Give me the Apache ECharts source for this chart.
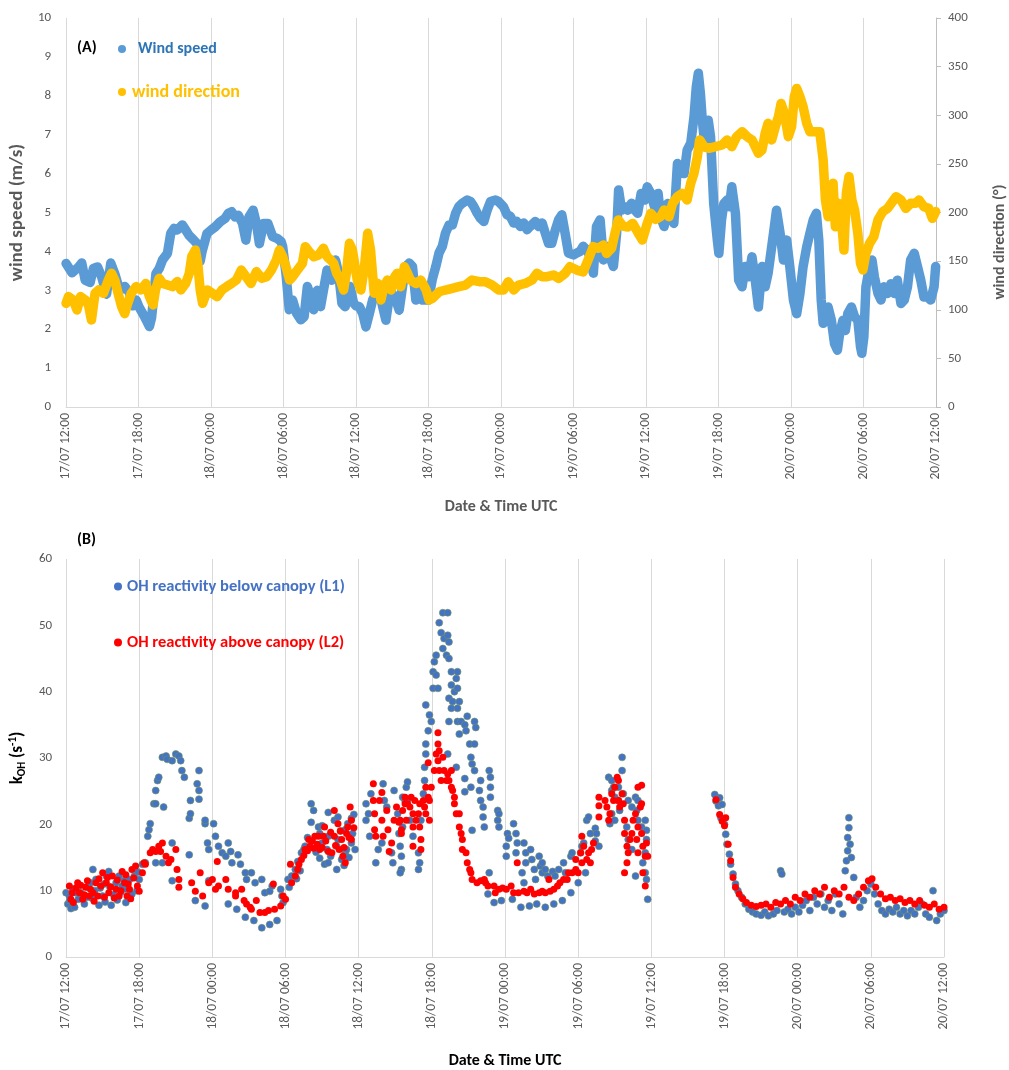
<!DOCTYPE html>
<html>
<head>
<meta charset="utf-8">
<script src="https://cdn.jsdelivr.net/npm/echarts@6/dist/echarts.min.js"></script>
<style>
  html, body { margin: 0; padding: 0; background: #ffffff; }
  #chart { width: 1009px; height: 1070px; }
</style>
</head>
<body>
<div id="chart"></div>
<script>
// Time axis: hours after 17/07 12:00 UTC, one tick every 6 h
const tickLabels = ['17/07 12:00', '17/07 18:00', '18/07 00:00', '18/07 06:00', '18/07 12:00',
  '18/07 18:00', '19/07 00:00', '19/07 06:00', '19/07 12:00', '19/07 18:00',
  '20/07 00:00', '20/07 06:00', '20/07 12:00'];

// (A) wind speed, m/s  [hour, value]
const windSpeed = [
  [0,3.69],[0.5,3.45],[1.04,3.6],[1.3,3.7],[1.58,3.26],[1.99,3.2],[2.26,3.56],[2.6,3.6],[2.94,3.35],
  [3.35,2.9],[3.7,3.7],[4.03,3.43],[4.44,3.0],[4.85,3.1],[5.26,2.93],[5.53,2.6],[5.8,2.75],[6.02,2.58],
  [6.35,2.4],[6.62,2.24],[6.9,2.07],[7.08,2.3],[7.44,3.43],[7.71,3.56],[7.98,3.78],[8.39,3.95],[8.66,4.46],
  [8.94,4.59],[9.2,4.55],[9.62,4.68],[9.9,4.55],[10.16,4.42],[10.57,4.29],[10.98,4.15],[11.1,3.75],
  [11.25,3.99],[11.66,4.46],[12,4.55],[12.34,4.63],[12.75,4.76],[13.16,4.85],[13.43,4.98],[13.7,5.02],
  [13.98,4.89],[14.25,4.93],[14.6,4.72],[14.88,4.29],[15.15,4.89],[15.48,5.06],[15.75,4.72],[16.0,4.2],
  [16.35,4.72],[16.7,4.72],[17.1,4.38],[17.5,4.33],[17.8,4.25],[17.93,4.12],[18.2,3.43],[18.47,2.5],
  [18.75,2.75],[19.07,2.41],[19.43,2.24],[19.7,2.32],[19.97,3.1],[20.25,2.84],[20.5,2.5],[20.8,3.0],
  [21.06,2.58],[21.6,3.52],[22.0,3.26],[22.3,3.78],[22.56,3.43],[22.83,2.67],[23.1,2.58],[23.5,3.1],
  [23.8,2.67],[24.0,2.6],[24.27,2.58],[24.55,2.4],[24.82,2.06],[25.1,2.4],[25.37,2.75],[25.65,2.92],
  [25.92,3.0],[26.2,2.58],[26.47,2.23],[26.75,2.83],[27.0,2.92],[27.3,2.75],[27.57,2.49],[27.85,3.1],
  [28.1,3.61],[28.4,3.7],[28.67,3.61],[28.95,2.75],[29.2,3.01],[29.5,2.75],[30.0,2.75],[30.3,3.27],
  [30.6,3.61],[30.87,3.96],[31.14,4.13],[31.4,4.47],[31.7,4.68],[31.97,4.68],[32.24,4.98],[32.5,5.15],
  [32.8,5.24],[33.2,5.32],[33.48,5.28],[33.75,5.15],[34.03,4.98],[34.3,4.85],[34.58,4.77],[34.85,5.06],
  [35.13,5.28],[35.54,5.32],[35.8,5.28],[36.2,5.15],[36.5,4.94],[36.77,4.9],[37.05,4.73],[37.3,4.77],
  [37.6,4.64],[37.87,4.73],[38.15,4.56],[38.4,4.64],[38.84,4.77],[39.1,4.64],[39.4,4.73],[39.66,4.47],
  [39.93,4.21],[40.2,4.21],[40.5,4.56],[40.76,4.81],[41.03,4.94],[41.3,4.47],[41.58,3.96],[42.0,3.91],
  [42.27,3.96],[42.54,4.0],[42.8,4.13],[43.1,4.04],[43.37,3.87],[43.64,3.44],[43.9,4.64],[44.2,4.81],
  [44.47,3.78],[44.74,4.13],[45.0,3.87],[45.3,3.61],[45.57,4.47],[45.73,5.58],[45.98,5.06],[46.25,5.15],
  [46.5,5.06],[46.8,5.24],[47.08,5.06],[47.3,4.98],[47.6,5.49],[47.9,5.32],[48.1,5.66],[48.4,5.49],
  [48.7,5.15],[49.0,5.49],[49.2,4.89],[49.5,4.64],[49.8,5.23],[50.05,4.89],[50.3,4.72],[50.6,6.26],
  [50.9,6.18],[51.15,6.0],[51.4,6.6],[51.7,6.78],[51.97,7.46],[52.16,8.23],[52.33,8.58],[52.5,8.06],
  [52.66,7.37],[52.88,6.69],[53.15,7.37],[53.34,6.95],[53.6,5.23],[53.9,4.29],[54.03,3.95],[54.25,4.81],
  [54.44,5.23],[54.7,5.32],[54.9,5.15],[55.1,5.66],[55.4,4.98],[55.67,3.26],[55.95,3.09],[56.2,3.61],
  [56.5,3.35],[56.77,3.86],[57.04,3.26],[57.3,2.57],[57.6,3.61],[57.86,3.09],[58.1,3.43],[58.55,4.46],
  [58.8,5.06],[59.1,4.46],[59.37,3.78],[59.64,4.29],[59.9,3.61],[60.2,2.75],[60.47,2.4],[60.74,2.92],
  [61.0,3.61],[61.3,4.12],[61.56,4.46],[61.84,4.81],[62.1,4.98],[62.3,4.29],[62.5,2.75],[62.66,2.15],
  [62.85,2.4],[63.07,2.57],[63.34,2.23],[63.6,1.63],[63.84,1.46],[64.03,1.89],[64.3,2.23],[64.5,1.97],
  [64.7,2.4],[65.0,2.57],[65.26,2.32],[65.53,2.23],[65.75,1.55],[65.86,1.38],[66.03,1.8],[66.2,3.09],
  [66.5,3.61],[66.7,3.78],[66.9,3.35],[67.2,2.92],[67.45,2.75],[67.7,3.09],[68.0,2.92],[68.27,3.17],
  [68.55,2.92],[68.8,3.26],[69.1,2.66],[69.37,2.75],[69.64,3.09],[69.9,3.78],[70.2,3.95],[70.47,3.61],
  [70.74,3.26],[71.0,2.83],[71.3,2.83],[71.56,2.75],[71.84,3.09],[71.97,3.61]
];

// (A) wind direction, degrees  [hour, value]
const windDirection = [
  [0,106.6],[0.2,113.5],[0.6,110],[0.9,99.8],[1.2,113.5],[1.6,110],[1.85,105],[2.1,89.5],[2.4,117],
  [2.7,120.4],[3.1,117],[3.5,130.6],[3.76,137.5],[4.03,130.6],[4.3,117],[4.6,103],[4.85,96],[5.1,106.6],
  [5.4,117],[5.8,123.8],[6.2,120.4],[6.6,127],[6.9,113.5],[7.2,105],[7.4,120.4],[7.7,132.3],[8.0,127],
  [8.4,125.5],[8.8,123.8],[9.2,129],[9.5,120.4],[9.9,127],[10.2,137.5],[10.4,154.6],[10.7,161.4],
  [10.9,147.7],[11.1,120.4],[11.3,106.6],[11.7,120.4],[12.1,117],[12.5,113.5],[12.9,120.4],[13.3,123.8],
  [13.7,127],[14.1,130.6],[14.5,140.9],[14.9,134],[15.3,127],[15.75,139.2],[16.2,132.3],[16.6,134],
  [17.0,140.9],[17.4,151.2],[17.66,161.4],[17.93,154.6],[18.2,144.3],[18.5,130.6],[18.75,134],
  [19.15,140.9],[19.56,147.7],[19.8,164.9],[20.1,159.8],[20.5,154.6],[20.9,156.3],[21.3,163.2],
  [21.6,154.6],[21.9,151.2],[22.15,147.7],[22.4,137.5],[22.7,130.6],[22.97,120.4],[23.2,137.5],
  [23.45,168.3],[23.7,161.4],[24.1,130.5],[24.4,120.3],[24.7,144.3],[24.96,178.6],[25.2,161.4],
  [25.5,117],[25.8,127],[26.06,110],[26.3,123.7],[26.6,130.5],[26.9,120.3],[27.2,134],[27.4,137.4],
  [27.7,123.7],[28.0,144.3],[28.26,137.4],[28.5,130.5],[28.95,127],[29.36,130.5],[29.8,120.3],
  [30.04,110],[30.3,111.5],[30.87,118.5],[31.4,120.3],[31.97,122],[32.5,123.7],[33.07,125.4],
  [33.6,130.5],[34.2,128.8],[34.7,128.8],[35.26,125.4],[35.8,120.3],[36.2,120.3],[36.6,128.8],
  [37.05,120.3],[37.45,125.4],[38.0,127],[38.56,130.5],[38.97,137.4],[39.4,134],[39.8,134],
  [40.35,135.7],[40.76,132.2],[41.3,137.4],[41.7,144.3],[42.27,140.8],[42.8,139],[43.2,151],
  [43.64,164.9],[44.05,163.2],[44.47,166.6],[44.74,157.9],[45.15,163.2],[45.43,178.6],[45.7,192.3],
  [46.1,186],[46.5,185],[46.9,188.8],[47.3,180],[47.7,171.7],[48.1,188.8],[48.4,199.1],[48.8,193],
  [49.2,195.7],[49.5,202.6],[49.9,195.7],[50.2,209.4],[50.6,216.3],[51.0,219.7],[51.4,212.9],
  [51.7,230],[51.97,240.3],[52.25,257.4],[52.44,274.6],[52.8,267.7],[53.2,266],[53.75,267.7],
  [54.3,269.4],[54.7,274.6],[55.1,267.7],[55.5,278],[55.95,283.1],[56.36,278],[56.77,274.6],
  [57.04,267.7],[57.3,260.9],[57.6,264.3],[57.86,281.4],[58.1,291.7],[58.4,274.6],[58.7,288.3],
  [58.96,298.5],[59.18,312.2],[59.45,302],[59.78,278],[60.05,288.3],[60.27,319],[60.47,327.6],
  [60.74,319],[61.0,308.8],[61.3,291.7],[61.56,283.1],[61.97,283.1],[62.38,283.1],[62.66,254],
  [62.85,212.9],[63.07,195.7],[63.3,223.1],[63.48,230],[63.67,185.4],[63.95,209.4],[64.16,195.7],
  [64.38,161.4],[64.58,219.7],[64.8,236.9],[65.04,212.9],[65.26,202.6],[65.53,178.6],[65.75,147.7],
  [65.95,140.9],[66.2,158],[66.5,168.3],[66.85,175.1],[67.2,192.3],[67.6,200.9],[68.0,204.3],
  [68.4,211.2],[68.7,216.3],[69.1,212.9],[69.5,204.3],[69.9,209.4],[70.3,209.4],[70.6,212.9],
  [71.0,206],[71.4,204.3],[71.7,194],[71.97,200.9]
];

// (B) OH reactivity below canopy (L1), s-1  [hour, value]
const ohBelow = [
  [0,9.7],[0.14,8.0],[0.27,9.2],[0.3,8.5],[0.4,7.3],[0.55,10.2],[0.7,7.5],[0.8,9.7],[1.0,8.7],[1.1,10.8],
  [1.2,9.7],[1.4,9.2],[1.5,8.0],[1.7,9.0],[1.8,10.5],[2.0,11.2],[2.1,8.9],[2.2,13.2],[2.35,10.0],
  [2.45,11.7],[2.7,7.8],[2.8,10.4],[3.0,9.2],[3.1,11.0],[3.2,8.3],[3.3,12.2],[3.5,12.9],[3.6,10.5],
  [3.7,7.8],[3.9,9.4],[4.1,11.2],[4.2,8.6],[4.35,12.2],[4.5,9.8],[4.6,10.7],[4.75,11.5],[4.9,8.2],
  [5.0,10.2],[5.2,11.7],[5.4,9.5],[5.6,12.2],[5.8,10.0],[5.9,12.8],[6.0,11.7],[6.26,14.0],[6.5,14.2],
  [6.7,18.2],[6.8,19.2],[6.9,20.1],[7.2,23.1],[7.35,25.1],[7.35,23.1],[7.35,14.2],[7.5,26.6],[7.6,27.1],
  [7.9,30.1],[7.9,14.2],[8.0,22.6],[8.2,30.3],[8.3,29.8],[8.7,29.6],[8.7,17.2],[8.7,11.5],[9.0,30.6],
  [9.25,30.3],[9.4,29.6],[9.5,28.1],[9.7,27.1],[10.1,15.4],[10.1,20.9],[10.2,23.6],[10.2,21.6],
  [10.75,26.1],[10.9,28.1],[10.9,25.1],[10.9,23.8],[10.6,8.5],[11.4,20.1],[11.4,20.6],[11.4,7.7],
  [11.6,17.2],[11.7,16.2],[11.7,11.5],[12.1,20.1],[12.25,18.2],[12.5,16.7],[12.8,15.7],[13.1,15.2],
  [13.3,17.2],[13.3,8.0],[13.5,15.9],[13.6,14.2],[14.0,7.2],[14.1,15.4],[14.3,14.0],[14.7,12.7],
  [14.7,6.0],[14.8,11.7],[15.2,12.7],[15.4,5.5],[15.5,11.2],[16.05,11.7],[16.05,4.4],[16.3,9.7],
  [16.7,9.9],[16.7,4.9],[16.9,10.7],[17.3,5.5],[17.6,10.2],[17.7,9.2],[17.8,8.2],[18.2,11.7],[18.3,10.5],
  [18.5,12.2],[18.8,13.2],[18.9,11.8],[19.0,14.4],[19.2,13.0],[19.3,15.7],[19.5,16.2],[19.6,16.7],
  [19.8,18.0],[20.1,23.1],[20.3,22.1],[20.1,20.3],[20.5,15.8],[20.7,19.6],[20.8,18.6],[20.8,14.9],
  [21.0,17.2],[21.0,19.8],[21.2,14.0],[21.4,16.2],[21.5,18.2],[21.5,21.8],[21.5,14.2],[21.7,15.2],
  [22.0,20.6],[22.2,16.7],[22.2,13.2],[22.3,21.1],[22.3,17.7],[22.5,19.0],[22.6,14.7],[22.8,13.8],
  [22.9,19.2],[22.9,15.7],[23.0,16.2],[23.1,20.1],[23.2,15.0],[23.4,20.9],[23.4,17.2],[23.5,18.6],
  [23.6,21.5],[23.7,16.2],
  [24.6,23.1],[24.8,21.6],[24.6,20.6],[24.9,18.2],[25.0,24.6],[25.4,14.2],[25.6,16.2],[25.9,17.2],
  [26.0,26.1],[26.1,23.6],[26.3,22.6],[26.7,15.7],[26.8,14.2],[26.9,25.1],[27.2,21.6],[27.3,18.6],
  [27.5,15.2],[27.5,13.2],[27.6,24.1],[27.4,16.7],[27.4,12.7],[27.6,19.6],[27.8,23.6],[27.9,25.6],
  [28.0,26.4],[28.0,23.6],[28.2,20.6],[28.45,18.2],[28.9,13.2],[28.9,15.7],[29.0,14.2],[29.1,20.6],
  [29.3,24.6],[29.4,26.6],[29.4,28.6],[29.5,30.6],[29.5,32.1],[29.5,38.0],[29.7,34.1],[29.8,36.5],
  [29.95,35.5],[30.1,43.0],[30.1,40.5],[30.2,44.5],[30.35,45.5],[30.35,42.5],[30.5,40.5],[30.6,50.4],
  [30.76,48.9],[30.9,51.9],[30.9,46.5],[31.0,48.0],[31.2,45.5],[31.3,51.9],[31.3,48.5],[31.3,30.6],
  [31.4,47.5],[31.4,45.0],[31.4,39.0],[31.4,35.5],[31.6,43.0],[31.6,41.0],[31.6,37.5],[31.7,38.5],
  [31.85,40.0],[32.0,42.0],[32.0,28.6],[32.1,43.0],[32.1,40.5],[32.1,37.5],[32.1,35.5],[32.25,38.5],
  [32.25,33.6],[32.4,35.5],[32.7,35.0],[32.7,26.9],[32.7,24.9],[32.8,34.1],[32.9,36.3],[33.1,32.1],
  [33.2,30.1],[33.2,25.6],[33.3,29.1],[33.3,19.1],[33.5,35.5],[33.5,32.1],[33.5,28.1],[33.6,34.6],
  [33.9,25.1],[34.0,26.6],[34.0,23.6],[34.2,22.6],[34.2,21.1],[34.3,19.6],[34.6,9.5],[34.7,28.1],
  [34.7,12.7],[34.8,27.1],[34.8,25.6],[34.8,24.1],[35.1,8.2],[35.4,22.1],[35.4,20.6],[35.5,19.6],
  [35.5,21.6],[35.7,8.5],[36.1,16.7],[36.1,15.2],[36.2,18.6],[36.3,17.9],[36.6,8.7],[36.7,20.1],
  [36.9,18.6],[36.9,15.7],[37.0,17.2],[37.3,7.5],[37.4,12.7],[37.55,17.2],[37.55,11.2],[37.7,15.7],
  [37.7,14.2],[38.0,7.7],[38.1,16.2],[38.2,14.7],[38.4,13.2],[38.5,11.7],[38.6,8.0],[38.8,15.2],
  [38.9,13.7],[39.05,14.2],[39.05,12.7],[39.3,13.2],[39.3,7.5],[39.5,12.2],[39.9,12.9],[40.0,8.0],
  [40.1,12.2],[40.4,13.2],[40.7,8.5],[40.8,14.2],[40.95,12.7],[41.4,15.2],[41.4,9.7],[41.5,15.7],
  [42.0,11.2],[42.2,15.7],[42.3,16.7],[42.45,17.2],[42.6,12.7],[42.7,20.6],[42.85,21.1],[43.0,18.6],
  [43.4,19.4],[43.4,17.5],[43.5,18.6],[43.7,16.7],[44.5,27.1],[44.6,20.1],[44.75,26.6],[44.75,25.1],
  [44.75,21.6],[44.9,25.6],[45.0,24.1],[45.0,20.6],[45.3,25.6],[45.3,23.6],[45.4,22.1],[45.6,30.1],
  [45.6,28.1],[45.7,24.6],[45.98,19.6],[46.1,23.6],[46.1,17.7],[46.4,22.6],[46.4,16.2],[46.7,24.1],
  [46.7,12.2],[46.8,22.1],[46.9,23.6],[46.9,20.6],[47.2,19.6],[47.3,14.2],[47.5,20.6],[47.5,15.7],
  [47.5,12.7],[47.6,19.1],[47.6,17.7],[47.6,11.7],[47.7,8.7],
  [53.2,24.5],[53.3,23.5],[53.5,22.8],[53.6,24.0],[53.7,21.0],[53.8,23.0],[54.0,20.0],[54.1,18.5],
  [54.2,17.0],[54.4,15.5],[54.5,14.0],[54.7,12.5],[54.9,11.0],[55.1,10.0],[55.4,9.0],[55.7,8.0],
  [56.0,7.2],[56.3,6.8],[56.6,6.5],[57.0,6.3],[57.3,6.8],[57.6,6.2],[58.0,6.5],[58.3,7.0],[58.6,13.0],
  [58.7,12.5],[58.9,6.8],[59.2,7.2],[59.5,6.5],[59.8,7.5],[60.1,6.8],[60.4,7.8],[60.7,8.5],[61.0,7.0],
  [61.3,9.0],[61.6,8.0],[61.9,9.5],[62.2,7.5],[62.5,8.5],[62.8,7.0],[63.1,9.5],[63.4,8.0],[63.7,6.5],
  [63.9,13.0],[64.0,14.5],[64.1,16.0],[64.1,18.0],[64.2,19.5],[64.2,21.0],[64.3,17.0],[64.4,15.0],
  [64.6,12.0],[64.8,9.0],[65.1,7.5],[65.4,8.5],[65.7,10.0],[66.0,11.0],[66.3,9.5],[66.6,8.0],[66.9,7.0],
  [67.2,6.5],[67.5,7.2],[67.8,6.8],[68.1,7.5],[68.4,6.5],[68.7,7.0],[69.0,6.2],[69.3,7.0],[69.6,6.5],
  [69.9,7.5],[70.2,8.0],[70.5,6.5],[70.8,6.0],[71.1,10.0],[71.4,5.5],[71.7,6.5],[72,7.0]
];

// (B) OH reactivity above canopy (L2), s-1  [hour, value]
const ohAbove = [
  [0.27,10.7],[0.4,8.7],[0.5,9.7],[0.6,8.2],[0.8,10.4],[0.95,11.2],[1.1,9.7],[1.2,10.8],[1.36,8.7],
  [1.5,9.4],[1.6,10.5],[1.75,11.5],[1.9,9.2],[2.0,10.2],[2.2,9.7],[2.3,8.4],[2.45,11.2],[2.6,9.2],
  [2.7,11.8],[2.86,10.7],[3.0,12.7],[3.15,9.0],[3.3,11.2],[3.4,12.0],[3.5,9.7],[3.65,10.6],[3.8,12.2],
  [3.95,8.9],[4.1,10.2],[4.2,11.6],[4.35,9.2],[4.5,10.0],[4.6,12.9],[4.8,11.2],[4.9,12.4],[5.0,9.2],
  [5.1,11.0],[5.2,10.2],[5.3,8.8],[5.4,13.2],[5.55,11.9],[5.7,13.7],[5.85,10.7],[6.0,9.9],[6.26,12.7],
  [6.4,14.2],[6.5,14.0],[6.9,15.7],[7.1,16.2],[7.35,15.9],[7.6,16.7],[7.75,15.9],[7.9,17.2],[8.2,15.2],
  [8.4,14.2],[8.6,14.7],[9.0,16.2],[9.1,13.2],[9.25,11.7],[9.25,10.5],[10.3,11.2],[10.6,9.9],[11.0,12.7],
  [11.2,9.2],[11.7,11.2],[12.0,11.7],[12.25,10.2],[12.4,14.4],[12.5,10.7],[13.1,11.7],[13.3,10.2],
  [13.9,9.7],[13.9,9.2],[14.4,10.2],[14.6,8.5],[14.8,8.0],[15.1,7.5],[15.2,7.2],[15.6,8.5],[15.9,6.7],
  [16.3,6.7],[16.6,7.0],[17.0,11.0],[17.1,7.2],[17.6,7.7],[17.8,9.2],[18.0,8.7],[18.4,14.0],[18.5,11.2],
  [18.8,12.2],[19.0,13.2],[19.1,14.0],[19.3,14.7],[19.5,15.3],[19.6,16.2],[19.8,16.0],[19.9,17.7],
  [20.0,16.7],[20.2,17.5],[20.3,16.4],[20.4,18.2],[20.6,17.0],[20.7,18.2],[20.8,16.2],[21.0,16.5],
  [21.1,18.2],[21.2,19.6],[21.3,17.5],[21.5,15.9],[21.7,18.8],[21.8,15.7],[22.0,22.1],[22.0,18.2],
  [22.1,16.8],[22.3,20.1],[22.4,16.2],[22.5,19.0],[22.6,17.7],[22.7,15.2],[22.8,16.5],[22.9,14.2],
  [23.0,18.6],[23.1,19.6],[23.2,18.0],[23.3,22.6],[23.4,20.6],[23.4,17.7],[23.6,19.5],
  [25.2,26.1],[25.2,23.6],[25.3,21.6],[25.3,19.2],[25.4,18.2],[25.7,23.6],[25.9,24.8],[25.9,20.6],
  [26.0,18.2],[26.3,22.1],[26.4,19.2],[26.5,15.9],[26.7,17.2],[26.9,20.6],[27.1,22.6],[27.3,20.3],
  [27.4,20.6],[27.5,19.2],[27.5,18.6],[27.6,22.1],[27.8,24.1],[27.8,23.1],[27.9,20.6],[28.0,23.1],
  [28.2,22.6],[28.3,24.1],[28.45,21.6],[28.45,19.6],[28.45,16.7],[28.6,23.6],[28.7,20.6],[28.9,21.6],
  [29.0,23.1],[29.0,19.6],[29.1,17.7],[29.1,16.2],[29.3,23.6],[29.4,22.6],[29.5,21.6],[29.5,25.6],
  [29.7,24.1],[29.7,29.3],[29.8,20.6],[29.8,23.6],[29.95,25.6],[30.2,28.1],[30.35,30.6],[30.5,32.1],
  [30.5,33.8],[30.5,29.6],[30.6,31.1],[30.6,28.1],[30.76,26.6],[30.9,30.1],[31.0,28.1],[31.2,26.6],
  [31.3,27.6],[31.4,26.6],[31.6,28.1],[31.6,25.6],[31.7,25.1],[31.85,24.1],[31.85,23.1],[32.0,21.6],
  [32.25,21.6],[32.25,19.6],[32.4,18.6],[32.5,17.7],[32.5,16.2],[32.8,15.7],[32.9,14.2],[33.1,13.2],
  [33.2,12.7],[33.3,11.7],[33.7,11.2],[34.0,11.5],[34.3,11.7],[34.4,11.2],[34.6,10.7],[35.1,10.7],
  [35.2,9.7],[35.5,10.2],[35.8,10.4],[36.1,10.2],[36.5,10.7],[36.7,9.7],[37.0,14.2],[37.1,9.7],
  [37.55,9.9],[37.8,9.7],[38.1,10.2],[38.4,9.5],[38.8,9.7],[39.05,9.9],[39.3,9.7],[39.6,11.7],
  [39.7,9.9],[40.0,10.2],[40.3,10.7],[40.5,11.2],[40.8,11.7],[41.1,11.7],[41.2,12.7],[41.5,12.7],
  [41.8,13.2],[41.8,14.7],[42.0,12.7],[42.2,15.7],[42.3,14.2],[42.3,18.2],[42.45,16.7],[42.7,14.7],
  [42.85,15.7],[43.0,14.2],[43.1,16.2],[43.25,17.2],[43.7,24.1],[43.7,22.8],[43.7,21.1],[44.2,23.6],
  [44.35,22.6],[44.5,20.6],[44.6,21.6],[44.75,24.6],[44.9,23.6],[45.0,25.6],[45.2,27.1],[45.3,26.6],
  [45.3,23.6],[45.4,22.6],[45.6,24.6],[45.7,23.1],[45.8,20.6],[45.8,18.6],[45.8,12.7],[46.0,16.7],
  [46.0,14.2],[46.1,15.7],[46.25,17.7],[46.4,18.6],[46.5,20.6],[46.7,21.6],[46.8,17.7],[46.9,19.6],
  [46.9,15.7],[46.9,25.6],[47.1,22.6],[47.2,25.9],[47.2,18.6],[47.2,23.1],[47.3,16.7],[47.3,12.7],
  [47.5,15.2],[47.5,10.7],[47.6,17.2],[47.7,15.2],
  [53.3,23.7],[53.6,21.5],[53.8,20.5],[54.0,19.8],[54.1,21.0],[54.3,17.0],[54.5,14.5],[54.7,12.0],
  [54.9,10.5],[55.2,9.5],[55.5,8.8],[55.8,8.2],[56.2,7.8],[56.6,7.6],[57.0,7.8],[57.4,8.0],[57.8,7.5],
  [58.2,8.2],[58.6,8.0],[59.0,8.5],[59.4,8.0],[59.8,9.0],[60.2,8.5],[60.6,9.5],[61.0,9.0],[61.4,10.0],
  [61.8,9.5],[62.2,10.5],[62.6,9.0],[63.0,10.0],[63.4,9.5],[63.8,10.5],[64.2,9.0],[64.6,8.5],[65.0,9.5],
  [65.4,10.5],[65.8,11.5],[66.1,11.8],[66.4,10.5],[66.8,9.5],[67.2,8.8],[67.6,9.0],[68.0,8.5],[68.4,8.8],
  [68.8,8.2],[69.2,8.5],[69.6,8.0],[70.0,8.5],[70.4,7.8],[70.8,7.5],[71.2,8.0],[71.6,7.2],[72,7.5]
];

const FONT = 'Carlito, Lato, "Liberation Sans", sans-serif';
const GRID_GREY = '#d9d9d9';
const TEXT_GREY = '#595959';

function timeAxis(gridIndex, titleColor, gap) {
  return {
    gridIndex: gridIndex,
    type: 'value',
    min: 0, max: 72, interval: 6,
    axisLine: { show: true, lineStyle: { color: GRID_GREY, width: 1 } },
    axisTick: { show: false },
    splitLine: { show: true, lineStyle: { color: GRID_GREY, width: 1 } },
    axisLabel: {
      rotate: 90, margin: 6, color: TEXT_GREY, fontFamily: FONT, fontSize: 13.5,
      formatter: v => tickLabels[Math.round(v / 6)]
    },
    name: 'Date & Time UTC',
    nameLocation: 'middle',
    nameGap: gap,
    nameTextStyle: { color: titleColor, fontFamily: FONT, fontWeight: 'bold', fontSize: 16 }
  };
}

function legendItem(name, textColor, left, top, fontSize, pad) {
  return {
    data: [{ name: name, textStyle: { color: textColor } }],
    left: left, top: top, icon: 'circle', itemWidth: 8, itemHeight: 8,
    itemStyle: { borderWidth: 0 },
    textStyle: { fontFamily: FONT, fontSize: fontSize, fontWeight: 'bold', padding: [0, 0, 0, pad] }
  };
}

const chart = echarts.init(document.getElementById('chart'), null, { renderer: 'canvas' });

chart.setOption({
  animation: false,
  backgroundColor: '#ffffff',
  title: [
    { text: '(A)', left: 72, top: 35, textStyle: { fontFamily: FONT, fontSize: 16, fontWeight: 'bold', color: '#000' } },
    { text: '(B)', left: 72, top: 527, textStyle: { fontFamily: FONT, fontSize: 16, fontWeight: 'bold', color: '#000' } }
  ],
  // right-hand axis title of panel A
  graphic: [
    {
      type: 'text', x: 1000, y: 242, rotation: Math.PI / 2,
      style: {
        text: 'wind direction (°)', fill: TEXT_GREY, font: 'bold 16px ' + FONT,
        textAlign: 'center', textVerticalAlign: 'middle'
      }
    }
  ],
  legend: [
    legendItem('Wind speed', '#2E75B6', 113, 36, 16, 7),
    legendItem('wind direction', '#FFC000', 113, 78, 18, 1),
    legendItem('OH reactivity below canopy (L1)', '#4472C4', 109, 573, 16.5, 0),
    legendItem('OH reactivity above canopy (L2)', '#FF0000', 109, 629, 16.5, 0)
  ],
  grid: [
    { left: 59, right: 73, top: 18, height: 389 },
    { left: 63, right: 65, top: 559, height: 403 }
  ],
  xAxis: [timeAxis(0, TEXT_GREY, 92), timeAxis(1, '#000000', 96)],
  yAxis: [
    {
      gridIndex: 0, type: 'value', min: 0, max: 10, interval: 1,
      axisLine: { show: false }, axisTick: { show: false }, splitLine: { show: false },
      axisLabel: { color: TEXT_GREY, fontFamily: FONT, fontSize: 13, margin: 15 },
      name: 'wind speed (m/s)', nameLocation: 'middle', nameGap: 32, nameRotate: 90,
      nameTextStyle: { color: TEXT_GREY, fontFamily: FONT, fontWeight: 'bold', fontSize: 19 }
    },
    {
      gridIndex: 0, type: 'value', position: 'right', min: 0, max: 400, interval: 50,
      axisLine: { show: true, lineStyle: { color: '#bfbfbf' } },
      axisTick: { show: true, length: 5, lineStyle: { color: '#bfbfbf' } },
      splitLine: { show: false },
      axisLabel: { color: TEXT_GREY, fontFamily: FONT, fontSize: 13, margin: 12 }
    },
    {
      gridIndex: 1, type: 'value', min: 0, max: 60, interval: 10,
      axisLine: { show: false }, axisTick: { show: false }, splitLine: { show: false },
      axisLabel: { color: TEXT_GREY, fontFamily: FONT, fontSize: 13, margin: 14 },
      name: '{k|k}{sub|OH}{k| (s}{sup|-1}{k|)}', nameLocation: 'middle', nameGap: 36, nameRotate: 90,
      nameTextStyle: {
        fontFamily: FONT, fontWeight: 'bold', color: '#000',
        rich: {
          k: { fontFamily: FONT, fontWeight: 'bold', fontSize: 17, color: '#000', lineHeight: 20, verticalAlign: 'middle' },
          sub: { fontFamily: FONT, fontWeight: 'bold', fontSize: 11, color: '#000', lineHeight: 20, verticalAlign: 'bottom' },
          sup: { fontFamily: FONT, fontWeight: 'bold', fontSize: 11, color: '#000', lineHeight: 20, verticalAlign: 'top' }
        }
      }
    }
  ],
  series: [
    {
      name: 'Wind speed', type: 'line', xAxisIndex: 0, yAxisIndex: 0,
      data: windSpeed, showSymbol: false, symbol: 'circle', symbolSize: 8,
      itemStyle: { color: '#5B9BD5' },
      lineStyle: { color: '#5B9BD5', width: 9.5, cap: 'round', join: 'round' }
    },
    {
      name: 'wind direction', type: 'line', xAxisIndex: 0, yAxisIndex: 1,
      data: windDirection, showSymbol: false, symbol: 'circle', symbolSize: 8,
      itemStyle: { color: '#FFC000' },
      lineStyle: { color: '#FFC000', width: 9.5, cap: 'round', join: 'round' }
    },
    {
      name: 'OH reactivity below canopy (L1)', type: 'scatter', xAxisIndex: 1, yAxisIndex: 2,
      data: ohBelow, symbol: 'circle', symbolSize: 7,
      itemStyle: { color: '#4472C4', borderColor: '#6f925e', borderWidth: 0.6, opacity: 1 }
    },
    {
      name: 'OH reactivity above canopy (L2)', type: 'scatter', xAxisIndex: 1, yAxisIndex: 2,
      data: ohAbove, symbol: 'circle', symbolSize: 7,
      itemStyle: { color: '#FF0000', opacity: 1 }
    }
  ]
});
</script>
</body>
</html>
